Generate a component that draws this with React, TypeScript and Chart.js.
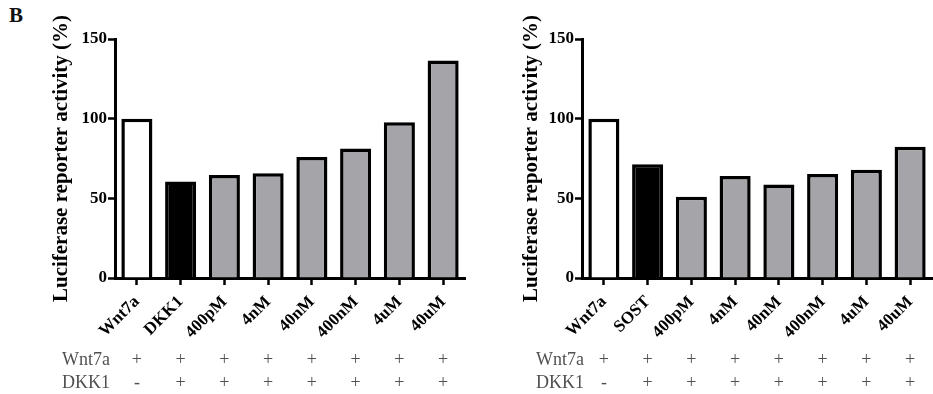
import React, { useEffect, useRef } from "react";
import { Chart, registerables } from "chart.js";

Chart.register(...registerables);

const categoriesLeft = ["Wnt7a", "DKK1", "400pM", "4nM", "40nM", "400nM", "4uM", "40uM"];
const valuesLeft = [100, 60.5, 64.6, 65.8, 76, 81.2, 97.7, 136.5];

const categoriesRight = ["Wnt7a", "SOST", "400pM", "4nM", "40nM", "400nM", "4uM", "40uM"];
const valuesRight = [100, 71.4, 51, 64, 58.7, 65.2, 68, 82.3];

const barColors = ["#ffffff", "#000000", "#a5a5a9", "#a5a5a9", "#a5a5a9", "#a5a5a9", "#a5a5a9", "#a5a5a9"];

const rowNames = ["Wnt7a", "DKK1"];
const wnt7aRow = ["+", "+", "+", "+", "+", "+", "+", "+"];
const dkk1Row = ["-", "+", "+", "+", "+", "+", "+", "+"];

const yTicks = [0, 50, 100, 150];
const yTitle = "Luciferase reporter activity (%)";

const SERIF = "'Liberation Serif', 'Times New Roman', serif";

function makeRowsPlugin(labelX: number) {
  return {
    id: "rows",
    afterDraw(chart: any) {
      const ctx = chart.ctx;
      const xs = chart.scales.x;
      ctx.save();
      ctx.font = "18px 'Liberation Serif', serif";
      ctx.fillStyle = "#505050";
      ctx.textBaseline = "middle";
      const rows = [wnt7aRow, dkk1Row];
      const ys = [360, 383];
      rows.forEach((row, r) => {
        ctx.textAlign = "left";
        ctx.fillText(rowNames[r], labelX, ys[r]);
        ctx.textAlign = "center";
        row.forEach((s, i) => {
          ctx.fillText(s, xs.getPixelForValue(i), ys[r]);
        });
      });
      ctx.restore();
    },
  };
}

function Panel(props: { labels: string[]; values: number[]; yWidth: number; rightPad: number; width: number; left: number; labelX: number }) {
  const ref = useRef<HTMLCanvasElement | null>(null);
  useEffect(() => {
    if (!ref.current) return;
    const chart = new Chart(ref.current, {
      type: "bar",
      data: {
        labels: props.labels,
        datasets: [
          {
            data: props.values,
            backgroundColor: barColors,
            borderColor: "#000000",
            borderWidth: 3.5,
            borderSkipped: "start",
            barPercentage: 0.71,
            categoryPercentage: 1,
          },
        ],
      },
      options: {
        animation: false,
        responsive: false,
        maintainAspectRatio: false,
        layout: { padding: { top: 39, right: props.rightPad, left: 0, bottom: 0 } },
        plugins: { legend: { display: false }, tooltip: { enabled: false }, title: { display: false } },
        scales: {
          x: {
            offset: true,
            grid: { offset: false, drawOnChartArea: false, tickLength: 7, color: "#000", tickWidth: 2.5 },
            border: { color: "#000", width: 3 },
            ticks: {
              autoSkip: false,
              minRotation: 45,
              maxRotation: 45,
              padding: 7,
              color: "#000",
              font: { family: SERIF, size: 17, weight: "bold" },
            },
            afterFit: (s: any) => {
              s.height = 116;
            },
          },
          y: {
            min: 0,
            max: 150,
            afterBuildTicks: (s: any) => {
              s.ticks = yTicks.map((v) => ({ value: v }));
            },
            grid: { drawOnChartArea: false, tickLength: 7, color: "#000", tickWidth: 2.5 },
            border: { color: "#000", width: 3 },
            ticks: {
              padding: 1,
              color: "#000",
              font: { family: SERIF, size: 17, weight: "bold" },
            },
            title: {
              display: true,
              text: yTitle,
              color: "#000",
              font: { family: SERIF, size: 21, weight: "bold" },
              padding: { top: 49, bottom: 0 },
            },
            afterFit: (s: any) => {
              s.width = props.yWidth;
            },
          },
        },
      },
      plugins: [makeRowsPlugin(props.labelX)],
    } as any);
    return () => chart.destroy();
  }, []);
  return (
    <canvas
      ref={ref}
      width={props.width}
      height={394}
      style={{ position: "absolute", left: props.left, top: 0, width: props.width, height: 394 }}
    />
  );
}

export default function App() {
  return (
    <div style={{ position: "fixed", left: 0, top: 0, width: 933, height: 394, background: "#fff", overflow: "hidden" }}>
      <div
        style={{
          position: "absolute",
          left: 9,
          top: 3,
          fontFamily: SERIF,
          fontWeight: "bold",
          fontSize: 21,
          color: "#111",
        }}
      >
        B
      </div>
      <Panel labels={categoriesLeft} values={valuesLeft} yWidth={115} rightPad={5} width={470} left={0} labelX={62} />
      <Panel labels={categoriesRight} values={valuesRight} yWidth={112} rightPad={1} width={463} left={470} labelX={66} />
    </div>
  );
}
